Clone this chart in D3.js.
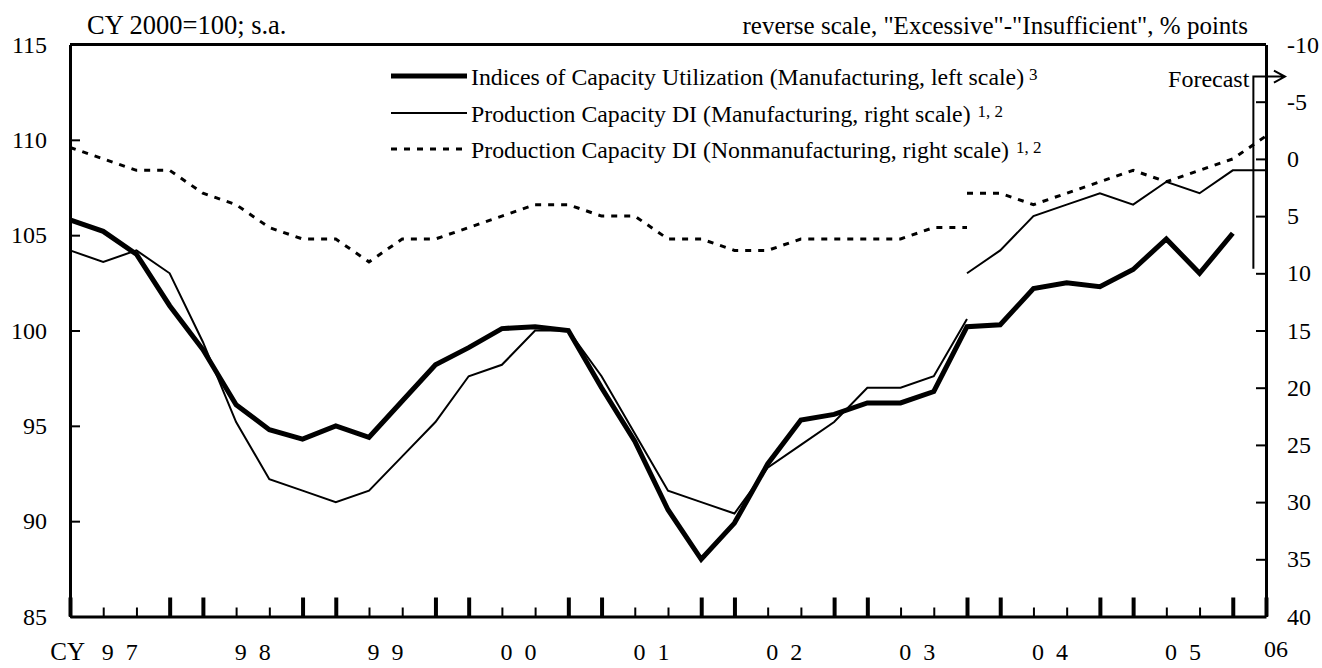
<!DOCTYPE html>
<html>
<head>
<meta charset="utf-8">
<script src="https://cdn.jsdelivr.net/npm/d3@7"></script>
<style>
  body { margin: 0; background: #fff; }
  svg text { font-family: "Liberation Serif", "Times New Roman", serif; fill: #000; }
</style>
</head>
<body>
<div id="chart"></div>
<script>
// quarter index: 0 = CY97 Q1 ... 35 = CY05 Q4, 36 = CY06 Q1 (forecast)
// Indices of Capacity Utilization (Manufacturing), left scale, q 0..35
const capUtil = [105.8, 105.2, 104.0, 101.3, 99.0, 96.1, 94.8, 94.3, 95.0, 94.4,
  96.3, 98.2, 99.1, 100.1, 100.2, 100.0, 97.0, 94.2, 90.6, 88.0,
  89.9, 93.0, 95.3, 95.6, 96.2, 96.2, 96.8, 100.2, 100.3, 102.2,
  102.5, 102.3, 103.2, 104.8, 103.0, 105.1];
// Production Capacity DI (Manufacturing), right scale; old survey q 0..27, new survey q 27..36
const mfgOld = [8, 9, 8, 10, 16, 23, 28, 29, 30, 29, 26, 23, 19, 18, 15, 15, 19, 24,
  29, 30, 31, 27, 25, 23, 20, 20, 19, 14];
const mfgNew = [10, 8, 5, 4, 3, 4, 2, 3, 1, 1];
// Production Capacity DI (Nonmanufacturing), right scale
const nonmfgOld = [-1, 0, 1, 1, 3, 4, 6, 7, 7, 9, 7, 7, 6, 5, 4, 4, 5, 5,
  7, 7, 8, 8, 7, 7, 7, 7, 6, 6];
const nonmfgNew = [3, 3, 4, 3, 2, 1, 2, 1, 0, -2];
const newStart = 27;

const yearLabels = ["9\u00a0\u00a07", "9\u00a0\u00a08", "9\u00a0\u00a09", "0\u00a0\u00a00", "0\u00a0\u00a01",
  "0\u00a0\u00a02", "0\u00a0\u00a03", "0\u00a0\u00a04", "0\u00a0\u00a05"];
const leftTicks = [85, 90, 95, 100, 105, 110, 115];
const rightTicks = [-10, -5, 0, 5, 10, 15, 20, 25, 30, 35, 40];
const legendLabels = [
  "Indices of Capacity Utilization (Manufacturing, left scale)",
  "Production Capacity DI (Manufacturing, right scale)",
  "Production Capacity DI (Nonmanufacturing, right scale)"];
const legendNotes = ["3", "1, 2", "1, 2"];

const w = 1322, h = 668;
const x = d3.scaleLinear().domain([0, 36]).range([70, 1266]);
const yL = d3.scaleLinear().domain([85, 115]).range([616.5, 44.5]);
const yR = d3.scaleLinear().domain([-10, 40]).range([44.5, 616.5]);

const svg = d3.select("#chart").append("svg")
  .attr("width", w)
  .attr("height", h);

// line styles: thick, thin, dashed
const styles = [
  {width: 5, dash: null},
  {width: 2, dash: null},
  {width: 3, dash: "6,7"}
];

// top border of the plot
svg.append("line")
  .attr("x1", x(0)).attr("x2", x(36))
  .attr("y1", yL(115)).attr("y2", yL(115))
  .attr("stroke", "#000").attr("stroke-width", 3);

// left axis
svg.append("g")
  .attr("transform", `translate(${x(0)},0)`)
  .call(d3.axisLeft(yL).tickValues(leftTicks).tickSizeInner(-10).tickSizeOuter(0)
    .tickPadding(23).tickFormat(d => String(d)))
  .attr("font-size", 24)
  .call(g => g.select(".domain").attr("stroke-width", 3))
  .call(g => g.selectAll(".tick line").attr("stroke-width", 2));

// right axis (reverse scale)
svg.append("g")
  .attr("transform", `translate(${x(36)},0)`)
  .call(d3.axisRight(yR).tickValues(rightTicks).tickSizeInner(-10).tickSizeOuter(0)
    .tickPadding(21).tickFormat(d => String(d)))
  .attr("font-size", 24)
  .call(g => g.select(".domain").attr("stroke-width", 3))
  .call(g => g.selectAll(".tick line").attr("stroke-width", 2));

// bottom axis, quarterly ticks, taller ones round the turn of each year
svg.append("g")
  .attr("transform", `translate(0,${yL(85)})`)
  .call(d3.axisBottom(x).tickValues(d3.range(0, 37)).tickSizeInner(-9).tickSizeOuter(0).tickFormat(""))
  .call(g => g.select(".domain").attr("stroke-width", 3))
  .call(g => g.selectAll(".tick line").attr("stroke-width", 2)
    .filter(d => d % 4 === 3 || d % 4 === 0)
    .attr("y2", -19).attr("stroke-width", 4));

// year labels
svg.selectAll(".year")
  .data(yearLabels)
  .join("text")
  .attr("class", "year")
  .attr("x", (d, i) => x(4 * i + 1.5))
  .attr("y", 660)
  .attr("text-anchor", "middle")
  .attr("font-size", 24)
  .text(d => d);
svg.append("text").attr("x", 85).attr("y", 660).attr("text-anchor", "end")
  .attr("font-size", 25).text("CY");
svg.append("text").attr("x", x(36.3)).attr("y", 657).attr("text-anchor", "middle")
  .attr("font-size", 24).text("06");

// unit captions
svg.append("text").attr("x", 87).attr("y", 34).attr("font-size", 26.5)
  .text("CY 2000=100; s.a.");
svg.append("text").attr("x", 1248).attr("y", 34).attr("font-size", 25)
  .attr("text-anchor", "end")
  .text("reverse scale, \"Excessive\"-\"Insufficient\", % points");

// series
const lineL = d3.line().x(d => x(d.i)).y(d => yL(d.v));
const lineR = d3.line().x(d => x(d.i)).y(d => yR(d.v));
const pts = (arr, start) => arr.map((v, k) => ({i: start + k, v: v}));

const series = [
  {d: lineL(pts(capUtil, 0)), s: styles[0]},
  {d: lineR(pts(mfgOld, 0)), s: styles[1]},
  {d: lineR(pts(mfgNew, newStart)), s: styles[1]},
  {d: lineR(pts(nonmfgOld, 0)), s: styles[2]},
  {d: lineR(pts(nonmfgNew, newStart)), s: styles[2]}
];
svg.selectAll(".series")
  .data(series)
  .join("path")
  .attr("class", "series")
  .attr("d", d => d.d)
  .attr("fill", "none")
  .attr("stroke", "#000")
  .attr("stroke-width", d => d.s.width)
  .attr("stroke-dasharray", d => d.s.dash);

// legend
const legendY = [76, 113, 149];
const leg = svg.selectAll(".leg")
  .data(legendLabels)
  .join("g")
  .attr("class", "leg")
  .attr("transform", (d, i) => `translate(0,${legendY[i]})`);
leg.append("line")
  .attr("x1", 391).attr("x2", 467)
  .attr("stroke", "#000")
  .attr("stroke-width", (d, i) => styles[i].width)
  .attr("stroke-dasharray", (d, i) => styles[i].dash);
const legText = leg.append("text")
  .attr("x", 471).attr("y", 9)
  .attr("font-size", 23.8);
legText.append("tspan").text(d => d);
legText.append("tspan")
  .attr("dx", (d, i) => i === 0 ? 5 : 7)
  .attr("dy", -5)
  .attr("font-size", 17)
  .text((d, i) => legendNotes[i]);

// forecast marker
const fx = x(35.62), fTop = yR(-7.2), fBot = yR(9.6), fEnd = x(36.57);
svg.append("path")
  .attr("d", `M${fx},${fBot}V${fTop}H${fEnd}M${fEnd - 11},${fTop - 6}L${fEnd},${fTop}L${fEnd - 11},${fTop + 6}`)
  .attr("fill", "none")
  .attr("stroke", "#000")
  .attr("stroke-width", 2);
svg.append("text")
  .attr("x", fx - 4).attr("y", fTop + 10)
  .attr("text-anchor", "end")
  .attr("font-size", 24)
  .text("Forecast");
</script>
</body>
</html>
